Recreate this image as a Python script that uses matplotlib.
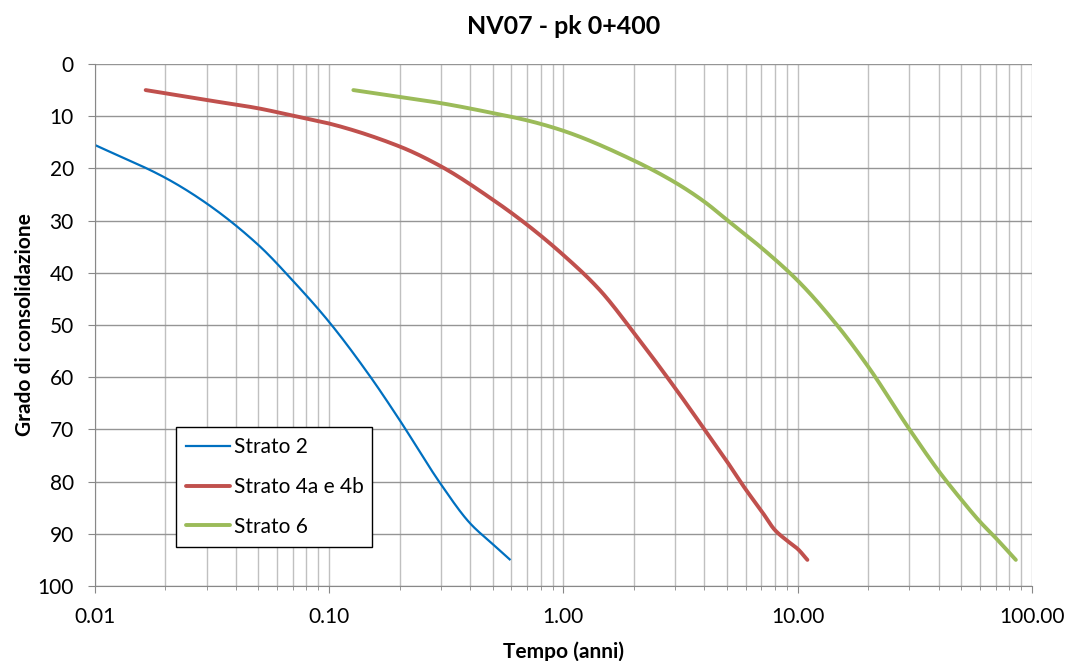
import numpy as np
import matplotlib.pyplot as plt
from matplotlib.ticker import FixedLocator, LogLocator, NullFormatter

plt.rcParams['font.family'] = ['Lato', 'DejaVu Sans']

# Strato 2
t_s2 = [0.01, 0.02, 0.03, 0.05, 0.07, 0.1, 0.15, 0.2, 0.3, 0.4, 0.5, 0.59]
u_s2 = [15.5, 21.8, 26.7, 34.7, 41.5, 49.4, 59.9, 68.2, 80.5, 88.0, 92.0, 94.9]

# Strato 4a e 4b
t_s4 = [0.0165, 0.02, 0.03, 0.05, 0.07, 0.1, 0.2, 0.3, 0.5, 0.7, 1.0, 1.43, 2.0, 3.0, 4.0, 5.0, 6.0, 7.0,
        8.0, 9.0, 10.0, 11.0]
u_s4 = [5.0, 5.6, 6.9, 8.5, 9.9, 11.4, 15.8, 19.6, 26.0, 30.8, 36.6, 43.3, 51.5, 62.1, 70.0, 76.2, 81.5, 85.6,
        89.3, 91.3, 92.9, 95.0]

# Strato 6
t_s6 = [0.127, 0.2, 0.3, 0.5, 0.7, 1.0, 2.0, 3.0, 4.0, 5.0, 7.0, 10.0, 14.7, 20.0, 30.0, 40.0, 50.0, 60.0,
        70.0, 85.3]
u_s6 = [5.0, 6.3, 7.5, 9.4, 10.8, 12.8, 18.5, 22.7, 26.4, 29.9, 35.2, 41.5, 50.0, 58.0, 70.0, 78.0, 83.5, 87.7,
        90.8, 95.0]

x_ticks = [0.01, 0.1, 1, 10, 100]
x_labels = ["0.01", "0.10", "1.00", "10.00", "100.00"]
y_ticks = list(range(0, 101, 10))


def smooth(t, u, n=25):
    # monotone cubic through the points in log(t), so the line is drawn smooth like Excel's
    x = np.log10(t)
    y = np.array(u, dtype=float)
    h = np.diff(x)
    d = np.diff(y) / h
    m = np.zeros_like(y)
    m[0], m[-1] = d[0], d[-1]
    for k in range(1, len(y) - 1):
        if d[k - 1] * d[k] > 0:
            w1 = 2 * h[k] + h[k - 1]
            w2 = h[k] + 2 * h[k - 1]
            m[k] = (w1 + w2) / (w1 / d[k - 1] + w2 / d[k])
    xs, ys = [], []
    s = np.linspace(0, 1, n, endpoint=False)
    for k in range(len(h)):
        h00 = 2 * s ** 3 - 3 * s ** 2 + 1
        h10 = s ** 3 - 2 * s ** 2 + s
        h01 = -2 * s ** 3 + 3 * s ** 2
        h11 = s ** 3 - s ** 2
        xs.extend(x[k] + s * h[k])
        ys.extend(h00 * y[k] + h10 * h[k] * m[k] + h01 * y[k + 1] + h11 * h[k] * m[k + 1])
    xs.append(x[-1])
    ys.append(y[-1])
    return 10 ** np.array(xs), np.array(ys)


fig = plt.figure(figsize=(10.69, 6.61), dpi=100)
ax = fig.add_axes([0.0886, 0.1135, 0.8768, 0.7897])

ax.plot(*smooth(t_s2, u_s2), color='#0070C0', lw=1.6, label='Strato 2')
ax.plot(*smooth(t_s4, u_s4), color='#C0504D', lw=2.8, label='Strato 4a e 4b', solid_capstyle='round')
ax.plot(*smooth(t_s6, u_s6), color='#9BBB59', lw=2.8, label='Strato 6', solid_capstyle='round')

ax.set_xscale('log')
ax.set_xlim(0.01, 100)
ax.set_ylim(100, 0)
ax.xaxis.set_major_locator(FixedLocator(x_ticks))
ax.set_xticklabels(x_labels)
ax.xaxis.set_minor_locator(LogLocator(base=10, subs=range(2, 10)))
ax.xaxis.set_minor_formatter(NullFormatter())
ax.set_yticks(y_ticks)

ax.grid(True, which='major', axis='y', color='#959595', lw=1)
ax.grid(True, which='major', axis='x', color='#c0c0c0', lw=1)
ax.grid(True, which='minor', axis='x', color='#c0c0c0', lw=1)
ax.set_axisbelow(True)

for s in ['top', 'right']:
    ax.spines[s].set_visible(False)
for s in ['left', 'bottom']:
    ax.spines[s].set_color('#888888')
ax.tick_params(axis='both', which='major', direction='out', length=5, color='#888888', labelsize=15, pad=10)
ax.tick_params(axis='x', which='minor', direction='out', length=3, color='#888888')

fig.text(0.5 * (0.0886 + 0.9654), 1 - 27 / 661, 'NV07 - pk 0+400', fontsize=18, fontweight='bold',
         ha='center', va='center')
fig.text(0.5 * (0.0886 + 0.9654), 1 - 652 / 661, 'Tempo (anni)', fontsize=15, fontweight='bold',
         ha='center', va='center')
fig.text(25 / 1069, 1 - 325 / 661, 'Grado di consolidazione', fontsize=15, fontweight='bold',
         ha='center', va='center', rotation=90)

leg = ax.legend(loc='upper left', bbox_to_anchor=(0.0867, 0.305, 0.209, 0.0), mode='expand',
                fontsize=15, frameon=True, fancybox=False, borderaxespad=0, handlelength=2.1,
                handletextpad=0.2, labelspacing=0.95, borderpad=0.5)
leg.get_frame().set_edgecolor('black')
leg.get_frame().set_linewidth(1)
leg.get_frame().set_alpha(1)

fig.savefig('out.png', dpi=100)
